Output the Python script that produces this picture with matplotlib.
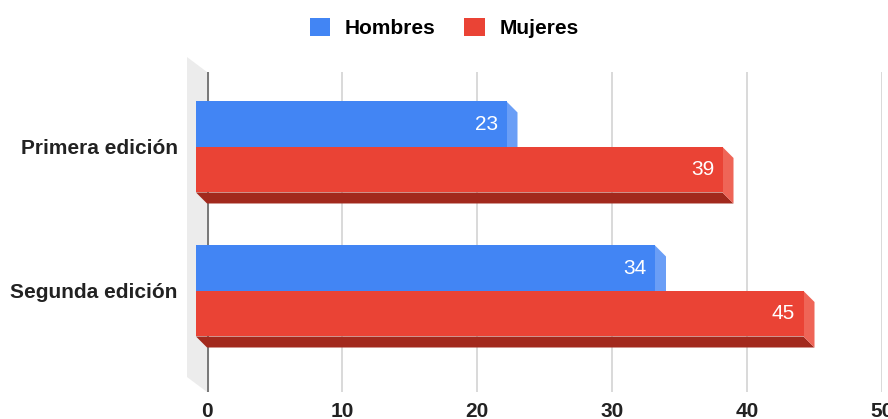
import matplotlib.pyplot as plt
from matplotlib.patches import Polygon, Patch

# ================== DATOS ==================
categorias = ['Primera edición', 'Segunda edición']
series = ['Hombres', 'Mujeres']
hombres = [23, 34]
mujeres = [39, 45]
ticks_x = [0, 10, 20, 30, 40, 50]

# colores: cara frontal, cara lateral, cara inferior
colores = {
    'Hombres': ('#4285F4', '#6A9EF6', '#2B5FC0'),
    'Mujeres': ('#EA4335', '#EF6557', '#A2291D'),
}

plt.rcParams['font.family'] = ['Liberation Sans', 'DejaVu Sans']
FS = 15              # ~21 px
PROF = 11            # profundidad 3D de las barras (px)
PROF_PARED = (20, 15)
ALTO_BARRA = 0.316

fig = plt.figure(figsize=(8.88, 4.19), dpi=100)
ax = fig.add_axes([207 / 888, 27 / 419, 675 / 888, 320 / 419])
ax.set_xlim(0, 50)
ax.set_ylim(1.625, -0.597)

# conversión de px a unidades de datos
bbox = ax.get_window_extent()
px_x = bbox.width / 50
px_y = bbox.height / (1.625 + 0.597)
dx, dy = PROF / px_x, PROF / px_y
wdx, wdy = PROF_PARED[0] / px_x, PROF_PARED[1] / px_y

# pared lateral izquierda
y0, y1 = ax.get_ylim()[1], ax.get_ylim()[0]
pared = Polygon([(0, y0), (0, y1), (-wdx, y1 - wdy), (-wdx, y0 - wdy)],
                closed=True, facecolor='#ececec', edgecolor='none',
                clip_on=False, zorder=0)
ax.add_patch(pared)

# rejilla y eje cero
ax.grid(axis='x', color='#d9d9d9', linewidth=1.4)
ax.set_axisbelow(True)
ax.axvline(0, color='#7a7a7a', linewidth=2.2, zorder=1)


def barra_3d(v, ytop, ybot, cols):
    """Dibuja una barra horizontal con cara frontal, lateral e inferior"""
    frente, lado, abajo = cols
    inferior = Polygon([(-dx, ybot), (v - dx, ybot), (v, ybot + dy), (0, ybot + dy)],
                       closed=True, facecolor=abajo, edgecolor='none',
                       clip_on=False, zorder=3)
    lateral = Polygon([(v - dx, ytop), (v, ytop + dy), (v, ybot + dy), (v - dx, ybot)],
                      closed=True, facecolor=lado, edgecolor='none',
                      clip_on=False, zorder=3)
    ax.add_patch(inferior)
    ax.add_patch(lateral)
    ax.barh((ytop + ybot) / 2, v, height=ybot - ytop, left=-dx,
            color=frente, linewidth=0, clip_on=False, zorder=3)
    ax.annotate(str(v), xy=(v - dx, (ytop + ybot) / 2), xytext=(-6, 0),
                textcoords='offset points', ha='right', va='center',
                color='white', fontsize=FS, zorder=4)


for i in range(len(categorias)):
    c = i - dy
    barra_3d(hombres[i], c - ALTO_BARRA, c, colores['Hombres'])
    barra_3d(mujeres[i], c, c + ALTO_BARRA, colores['Mujeres'])

# ejes
ax.set_xticks(ticks_x)
ax.set_xticklabels([str(t) for t in ticks_x], fontsize=FS, fontweight='bold', color='#222222')
ax.set_yticks([i - dy for i in range(len(categorias))])
ax.set_yticklabels(categorias, fontsize=FS, fontweight='bold', color='#222222')
ax.tick_params(axis='x', length=0, pad=7)
ax.tick_params(axis='y', length=0, pad=21)
for s in ax.spines.values():
    s.set_visible(False)

# leyenda
handles = [Patch(facecolor=colores[s][0], edgecolor='none') for s in series]
fig.legend(handles, series, loc='center', bbox_to_anchor=(444 / 888, 1 - 28 / 419),
           ncol=2, frameon=False, handlelength=1.0, handleheight=1.0,
           handletextpad=0.7, columnspacing=1.35,
           prop={'weight': 'bold', 'size': FS})

fig.savefig('out.png', dpi=100)
